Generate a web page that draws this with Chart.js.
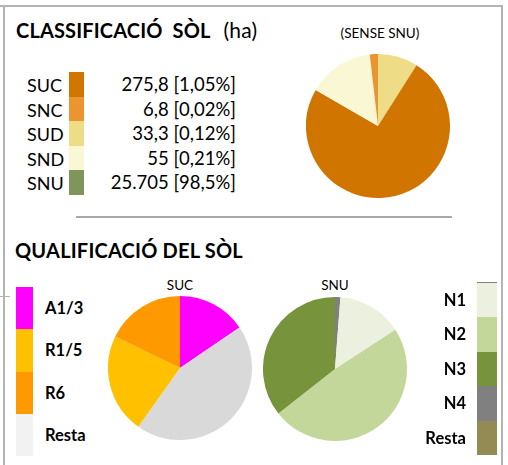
<!DOCTYPE html>
<html>
<head>
<meta charset="utf-8">
<script src="https://cdn.jsdelivr.net/npm/chart.js@4"></script>
<style>
    body { margin: 0; background: #fff; font-family: Lato, "Open Sans", sans-serif; color: #000; }
    #page { position: relative; width: 508px; height: 465px; overflow: hidden; }
    #page div, #page canvas { position: absolute; }
    .title { font-size: 20px; font-weight: bold; white-space: nowrap; }
    .pieLabel { font-size: 13.5px; text-align: center; width: 120px; }
</style>
</head>
<body>
<div id="page">
    <div style="left:0;top:5px;width:503px;height:2px;background:#b4b4b4"></div>
    <div style="left:3px;top:5px;width:2px;height:460px;background:#b4b4b4"></div>
    <div style="left:501px;top:5px;width:2px;height:460px;background:#b4b4b4"></div>
    <div style="left:76px;top:216px;width:376px;height:2px;background:#a8a8a8"></div>
    <div style="left:0;top:296px;width:10px;height:1px;background:#b4b4b4"></div>

    <div class="title" style="left:16px;top:17px;letter-spacing:0.15px">CLASSIFICACIÓ&nbsp; SÒL<span style="font-weight:normal;font-size:21px;margin-left:13px">(ha)</span></div>
    <div class="title" style="left:15px;top:238px;letter-spacing:0.2px">QUALIFICACIÓ DEL SÒL</div>

    <div class="pieLabel" style="left:320px;top:25px">(SENSE SNU)</div>
    <div class="pieLabel" style="left:120px;top:277px">SUC</div>
    <div class="pieLabel" style="left:275px;top:277px">SNU</div>

    <canvas id="pieClass" width="144" height="144" style="left:306px;top:54px"></canvas>
    <canvas id="pieSuc" width="144" height="144" style="left:108px;top:296px"></canvas>
    <canvas id="pieSnu" width="144" height="144" style="left:263px;top:297px"></canvas>
</div>
<script>
// classificació del sòl (ha)
const soilCats = ['SUC', 'SNC', 'SUD', 'SND', 'SNU'];
const soilHa = [275.8, 6.8, 33.3, 55, 25705];
const soilHaText = ['275,8', '6,8', '33,3', '55', '25.705'];
const soilPctText = ['1,05%', '0,02%', '0,12%', '0,21%', '98,5%'];
const soilColors = ['#d07500', '#eb9530', '#eedc86', '#faf8d4', '#80955a'];
const soilPieOrder = ['SUD', 'SUC', 'SND', 'SNC']; // pie without SNU

// qualificació SUC (%)
const sucCats = ['A1/3', 'R1/5', 'R6', 'Resta'];
const sucShare = [15.5, 22.4, 17.8, 44.4];
const sucColors = ['#ff00ff', '#ffc000', '#ff9900', '#d9d9d9'];
const sucBoxColors = ['#ff00ff', '#ffc000', '#ff9900', '#f2f2f2'];
const sucPieOrder = ['A1/3', 'Resta', 'R1/5', 'R6'];

// qualificació SNU (%)
const snuCats = ['N1', 'N2', 'N3', 'N4', 'Resta'];
const snuShare = [14.6, 48.6, 35.6, 1.2, 0];
const snuColors = ['#ebf1de', '#c4d79b', '#77933c', '#808080', '#948a54'];
const snuPieOrder = ['N4', 'N1', 'N2', 'N3', 'Resta'];

const page = document.getElementById('page');

function box(css, text) {
    const d = document.createElement('div');
    d.style.cssText = css;
    if (text) d.textContent = text;
    page.appendChild(d);
    return d;
}

// top legend
soilCats.forEach((c, i) => {
    const y = 72 + i * 24.6;
    box(`left:27px;top:${y}px;height:24.6px;line-height:26px;font-size:18px`, c);
    box(`left:69px;top:${y}px;width:15px;height:24.6px;background:${soilColors[i]}`);
    box(`left:86px;top:${y}px;width:150px;height:24.6px;line-height:24px;font-size:18.5px;text-align:right`,
        `${soilHaText[i]} [${soilPctText[i]}]`);
});

// SUC legend (left)
sucCats.forEach((c, i) => {
    const y = 287 + i * 42.3;
    box(`left:16px;top:${y}px;width:17px;height:42.3px;background:${sucBoxColors[i]}`);
    box(`left:45px;top:${y}px;height:42.3px;line-height:42px;font-size:16.5px;font-weight:bold`, c);
});

// SNU legend (right)
snuCats.forEach((c, i) => {
    const y = 283 + i * 34.4;
    box(`left:477px;top:${y}px;width:20px;height:34.4px;background:${snuColors[i]}`);
    box(`left:386px;top:${y}px;width:80px;height:34.4px;line-height:34px;font-size:16.5px;font-weight:bold;text-align:right`, c);
});
box('left:477px;top:282px;width:20px;height:1px;background:#808080');

function drawPie(id, cats, values, colors, order) {
    const idx = order.map(c => cats.indexOf(c));
    new Chart(document.getElementById(id), {
        type: 'pie',
        data: {
            labels: idx.map(i => cats[i]),
            datasets: [{
                data: idx.map(i => values[i]),
                backgroundColor: idx.map(i => colors[i]),
                borderWidth: 0
            }]
        },
        options: {
            responsive: false,
            animation: false,
            plugins: {
                legend: { display: false },
                tooltip: { enabled: false }
            }
        }
    });
}

drawPie('pieClass', soilCats, soilHa, soilColors, soilPieOrder);
drawPie('pieSuc', sucCats, sucShare, sucColors, sucPieOrder);
drawPie('pieSnu', snuCats, snuShare, snuColors, snuPieOrder);
</script>
</body>
</html>
